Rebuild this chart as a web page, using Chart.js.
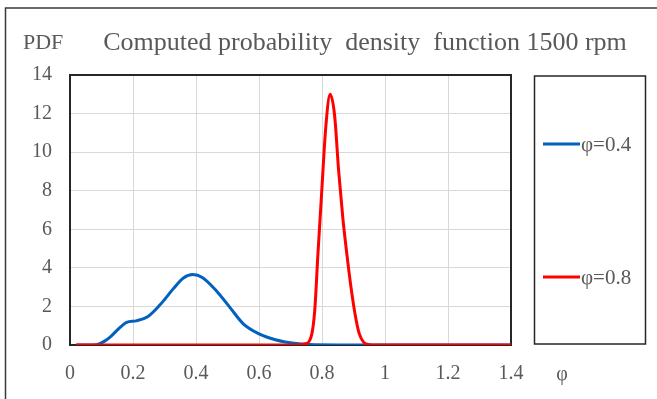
<!DOCTYPE html>
<html>
<head>
<meta charset="utf-8">
<script src="https://cdn.jsdelivr.net/npm/chart.js@4/dist/chart.umd.min.js"></script>
<style>
  html, body { margin: 0; padding: 0; background: #ffffff; }
  #c { display: block; }
</style>
</head>
<body>
<canvas id="c" width="657" height="399"></canvas>
<script>
// ---- Data ----
const chartTitle = "Computed probability  density  function 1500 rpm";
const yAxisTitle = "PDF";
const xAxisTitle = "φ";
const seriesLabels = ["φ=0.4", "φ=0.8"];

const blueX = [0.02, 0.06, 0.085, 0.11, 0.13, 0.155, 0.18, 0.21, 0.245, 0.285, 0.33, 0.36, 0.39, 0.42, 0.465, 0.51, 0.55, 0.60, 0.655, 0.71, 0.76, 0.85, 1.0, 1.2, 1.4];
const blueY = [0, 0, 0.02, 0.2, 0.45, 0.85, 1.17, 1.25, 1.45, 2.07, 2.95, 3.47, 3.65, 3.5, 2.8, 1.9, 1.1, 0.58, 0.26, 0.09, 0.02, 0, 0, 0, 0];

const redX = [0.02, 0.3, 0.6, 0.72, 0.745, 0.765, 0.777, 0.787, 0.80, 0.812, 0.826, 0.84, 0.853, 0.866, 0.879, 0.892, 0.905, 0.918, 0.932, 0.95, 0.97, 1.1, 1.4];
const redY = [0, 0, 0, 0, 0.05, 0.4, 1.8, 4.7, 8.2, 11.3, 13, 11.9, 9.0, 6.6, 4.7, 3.0, 1.6, 0.6, 0.15, 0.02, 0, 0, 0];

const xMin = 0, xMax = 1.4, xStep = 0.2;
const yMin = 0, yMax = 14, yStep = 2;

// ---- Styling ----
const FONT = '"Liberation Serif", "Times New Roman", serif';
const TEXT = '#595959';
const colors = ['#0062BE', '#FF0000'];

function pts(xs, ys) { return xs.map((x, i) => ({ x: x, y: ys[i] })); }

const decor = {
  id: 'decor',
  beforeDraw(chart) {
    const ctx = chart.ctx;
    ctx.save();
    ctx.fillStyle = '#ffffff';
    ctx.fillRect(0, 0, chart.width, chart.height);
    // outer frame (top + left visible)
    ctx.strokeStyle = '#3a3a3a';
    ctx.lineWidth = 1.5;
    ctx.beginPath();
    ctx.moveTo(5.5, chart.height);
    ctx.lineTo(5.5, 8);
    ctx.lineTo(chart.width, 8);
    ctx.stroke();
    // titles
    ctx.fillStyle = TEXT;
    ctx.font = '22px ' + FONT;
    ctx.textBaseline = 'middle';
    ctx.textAlign = 'left';
    ctx.fillText(yAxisTitle, 23, 43);
    ctx.font = '26px ' + FONT;
    ctx.textAlign = 'center';
    ctx.fillText(chartTitle, 365, 43);
    ctx.font = '20px ' + FONT;
    ctx.fillText(xAxisTitle, 562, 375);
    ctx.restore();
  },
  beforeDatasetsDraw(chart) {
    const a = chart.chartArea, ctx = chart.ctx;
    ctx.save();
    ctx.strokeStyle = '#262626';
    ctx.lineWidth = 2;
    ctx.strokeRect(a.left, a.top, a.right - a.left, a.bottom - a.top);
    ctx.restore();
  },
  afterDraw(chart) {
    const ctx = chart.ctx;
    ctx.save();
    // legend box
    ctx.strokeStyle = '#262626';
    ctx.lineWidth = 1.5;
    ctx.strokeRect(534.5, 76, 111, 268);
    const ys = [144, 277];
    ctx.font = '21px ' + FONT;
    ctx.textBaseline = 'middle';
    ctx.textAlign = 'left';
    chart.data.datasets.forEach((ds, i) => {
      ctx.strokeStyle = ds.borderColor;
      ctx.lineWidth = 3;
      ctx.beginPath();
      ctx.moveTo(543, ys[i]);
      ctx.lineTo(580, ys[i]);
      ctx.stroke();
      ctx.fillStyle = TEXT;
      ctx.fillText(ds.label, 581, ys[i] + 1);
    });
    ctx.restore();
  }
};

new Chart(document.getElementById('c'), {
  type: 'line',
  data: {
    datasets: [
      { label: seriesLabels[0], data: pts(blueX, blueY), borderColor: colors[0], backgroundColor: colors[0],
        borderWidth: 3, pointRadius: 0, cubicInterpolationMode: 'monotone', order: 2 },
      { label: seriesLabels[1], data: pts(redX, redY), borderColor: colors[1], backgroundColor: colors[1],
        borderWidth: 3, pointRadius: 0, cubicInterpolationMode: 'monotone', order: 1 }
    ]
  },
  options: {
    responsive: false,
    devicePixelRatio: 1,
    animation: false,
    layout: { padding: { left: 0, top: 75, right: 146, bottom: 0 } },
    plugins: { legend: { display: false }, title: { display: false }, tooltip: { enabled: false } },
    scales: {
      x: {
        type: 'linear', min: xMin, max: xMax,
        afterFit(s) { s.height = 54; },
        afterBuildTicks(s) {
          const t = []; for (let v = xMin; v <= xMax + 1e-9; v += xStep) t.push({ value: Math.round(v * 10) / 10 });
          s.ticks = t;
        },
        grid: { color: '#d9d9d9', lineWidth: 1, drawTicks: false },
        border: { display: false },
        ticks: { padding: 17, color: TEXT, font: { family: FONT, size: 20 }, maxRotation: 0,
          callback: v => String(v) }
      },
      y: {
        min: yMin, max: yMax,
        afterFit(s) { s.width = 70; },
        grid: { color: '#d9d9d9', lineWidth: 1, drawTicks: false },
        border: { display: false },
        ticks: { stepSize: yStep, padding: 18, color: TEXT, font: { family: FONT, size: 20 } }
      }
    }
  },
  plugins: [decor]
});
</script>
</body>
</html>
